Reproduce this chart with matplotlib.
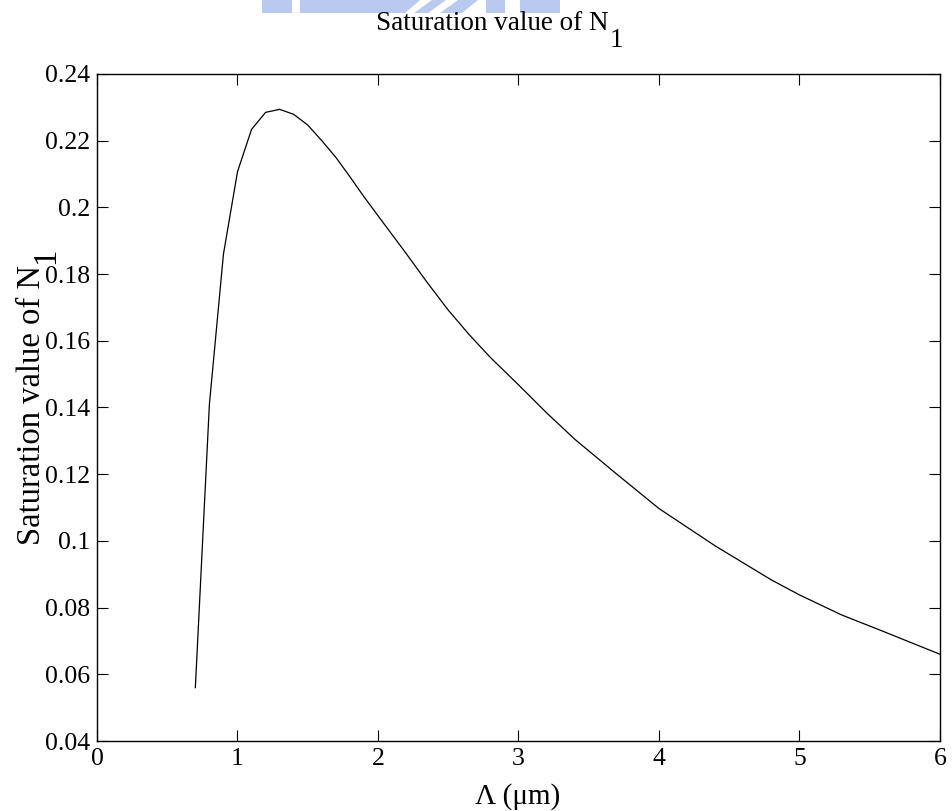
import matplotlib
matplotlib.use("Agg")
import matplotlib.pyplot as plt
from matplotlib.ticker import FuncFormatter
from matplotlib.patches import Polygon

# Data
lam_um = [0.7, 0.8, 0.9, 1.0, 1.1, 1.2, 1.3, 1.4, 1.5, 1.6, 1.7, 1.8, 1.9, 2.0,
          2.2, 2.35, 2.5, 2.65, 2.8, 3.0, 3.2, 3.4, 3.7, 4.0, 4.4, 4.8, 5.0,
          5.3, 5.6, 6.0]
n1_sat = [0.056, 0.141, 0.186, 0.2107, 0.2234, 0.2285, 0.2294, 0.2279, 0.2247,
          0.2200, 0.2150, 0.2092, 0.2032, 0.1975, 0.1862, 0.1775, 0.1692, 0.1618,
          0.1550, 0.1468, 0.1384, 0.1305, 0.1200, 0.1097, 0.0985, 0.0883, 0.0838,
          0.0778, 0.0728, 0.0660]
x_ticks = [0, 1, 2, 3, 4, 5, 6]
y_ticks = [0.04, 0.06, 0.08, 0.10, 0.12, 0.14, 0.16, 0.18, 0.20, 0.22, 0.24]

W, H = 953, 811
fig = plt.figure(figsize=(W / 100, H / 100), dpi=100)
serif = "Liberation Serif"

# faint watermark fragment at the top
def px(x, y):
    return (x / W, 1 - y / H)

wm_color = "#a3b8ec"
shapes = [
    [(262, 0), (292, 0), (292, 13), (262, 13)],
    [(300, 0), (420, 0), (405, 13), (300, 13)],
    [(432, 0), (446, 0), (428, 13), (414, 13)],
    [(458, 0), (478, 0), (462, 13), (440, 13)],
    [(486, 0), (505, 0), (505, 13), (486, 13)],
    [(520, 0), (560, 0), (560, 13), (520, 13)],
]
for s in shapes:
    fig.patches.append(Polygon([px(*p) for p in s], closed=True,
                               transform=fig.transFigure, facecolor=wm_color,
                               edgecolor="none", alpha=0.75))

ax = fig.add_axes([97 / W, (H - 741) / H, (940 - 97) / W, (741 - 74) / H])
ax.plot(lam_um, n1_sat, color="black", linewidth=0.9)

ax.set_xlim(0, 6)
ax.set_ylim(0.04, 0.24)
ax.set_xticks(x_ticks)
ax.set_yticks(y_ticks)
ax.yaxis.set_major_formatter(FuncFormatter(lambda v, p: ("%g" % round(v, 4))))
ax.tick_params(direction="in", length=8, width=0.8, top=True, right=True,
               labelsize=18.5, pad=5)
for lab in ax.get_xticklabels() + ax.get_yticklabels():
    lab.set_fontfamily(serif)
for sp in ax.spines.values():
    sp.set_linewidth(1.0)

# title with MATLAB-like subscript
fig.text(376 / W, 1 - 30 / H, "Saturation value of N", family=serif,
         fontsize=19.5, ha="left", va="baseline")
fig.text(610 / W, 1 - 47 / H, "1", family=serif, fontsize=19.5,
         ha="left", va="baseline")

# y label
fig.text(40 / W, 1 - 545 / H, "Saturation value of N", family=serif,
         fontsize=23.5, rotation=90, ha="left", va="baseline",
         rotation_mode="anchor")
fig.text(54 / W, 1 - 264 / H, "1", family=serif, fontsize=23.5,
         rotation=90, ha="left", va="baseline", rotation_mode="anchor")

# x label
fig.text(518 / W, 1 - 804 / H, "\u039b (\u03bcm)", family=serif,
         fontsize=21, ha="center", va="baseline")

fig.savefig("out.png", dpi=100, facecolor="white")
